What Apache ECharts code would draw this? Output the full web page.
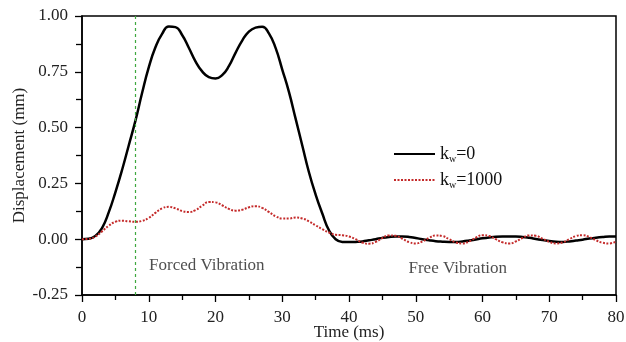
<!DOCTYPE html>
<html><head><meta charset="utf-8">
<script src="https://cdn.jsdelivr.net/npm/echarts@6/dist/echarts.min.js"></script>
<style>html,body{margin:0;padding:0;background:#fff}#c{width:626px;height:342px}</style>
</head><body><div id="c"></div>
<script>
var times = [];
for (var i = 0; i <= 80; i++) times.push(i);
var kw0 = [0,0.002,0.015,0.05,0.12,0.21,0.31,0.42,0.53,0.655,0.77,0.86,0.92,0.953,0.95,0.915,0.858,0.797,0.752,0.726,0.72,0.735,0.775,0.835,0.89,0.93,0.948,0.952,0.922,0.857,0.76,0.66,0.54,0.42,0.30,0.2,0.115,0.04,0.0,-0.012,-0.013,-0.012,-0.01,-0.005,0.0,0.006,0.01,0.012,0.012,0.01,0.005,0.0,-0.005,-0.009,-0.011,-0.012,-0.012,-0.01,-0.006,-0.001,0.004,0.008,0.011,0.012,0.012,0.012,0.01,0.006,0.001,-0.004,-0.008,-0.011,-0.012,-0.01,-0.006,-0.002,0.003,0.007,0.01,0.012,0.012];
var kw1000 = [0,0.002,0.012,0.035,0.06,0.078,0.083,0.08,0.078,0.082,0.095,0.118,0.138,0.145,0.138,0.126,0.122,0.13,0.15,0.167,0.165,0.152,0.136,0.128,0.132,0.143,0.148,0.14,0.122,0.103,0.093,0.093,0.097,0.093,0.08,0.062,0.045,0.03,0.02,0.018,0.012,0.0,-0.015,-0.02,-0.012,0.005,0.017,0.015,0.002,-0.013,-0.019,-0.01,0.006,0.017,0.014,0.0,-0.014,-0.019,-0.01,0.007,0.018,0.014,0.0,-0.014,-0.019,-0.01,0.006,0.017,0.015,0.002,-0.012,-0.019,-0.014,0.0,0.014,0.018,0.01,-0.005,-0.016,-0.019,-0.01];
var forcingEnd = 8;
var annotations = [["Forced Vibration", 18.7, -0.12], ["Free Vibration", 56.3, -0.13]];
var xTicks = {min: 0, max: 80, interval: 10};
var yTicks = {min: -0.25, max: 1, interval: 0.25};

function pairs(xs, ys){ return xs.map(function(x,i){return [x, ys[i]];}); }
var font = 'Liberation Serif';
var chart = echarts.init(document.getElementById('c'));
chart.setOption({
  animation: false,
  backgroundColor: '#fff',
  textStyle: {fontFamily: font},
  grid: {left: 82, right: 10, top: 16, bottom: 47, show: true, borderColor: '#000', borderWidth: 1.5,
    containLabel: false, outerBoundsMode: 'none'},
  xAxis: {type: 'value', min: xTicks.min, max: xTicks.max, interval: xTicks.interval,
    name: 'Time (ms)', nameLocation: 'middle', nameGap: 29, nameMoveOverlap: false,
    nameTextStyle: {fontFamily: font, fontSize: 17, color: '#222'},
    axisLine: {onZero: false, lineStyle: {color: '#000', width: 1.5}},
    axisTick: {length: 7, lineStyle: {color: '#000', width: 1.3}},
    minorTick: {show: true, splitNumber: 2, length: 5, lineStyle: {color: '#000', width: 1.3}},
    axisLabel: {fontFamily: font, fontSize: 17, color: '#222', margin: 14},
    splitLine: {show: false}},
  yAxis: {type: 'value', min: yTicks.min, max: yTicks.max, interval: yTicks.interval,
    name: 'Displacement (mm)', nameLocation: 'middle', nameGap: 54, nameMoveOverlap: false,
    nameTextStyle: {fontFamily: font, fontSize: 17, color: '#222'},
    axisLine: {lineStyle: {color: '#000', width: 1.5}},
    axisTick: {length: 7, lineStyle: {color: '#000', width: 1.3}},
    minorTick: {show: true, splitNumber: 2, length: 6, lineStyle: {color: '#000', width: 1.3}},
    axisLabel: {fontFamily: font, fontSize: 17, color: '#222', margin: 14,
      formatter: function(v){ return v.toFixed(2); }},
    splitLine: {show: false}},
  legend: {orient: 'vertical', left: 388, top: 140, itemWidth: 41, itemHeight: 16, itemGap: 7,
    data: ['kw0', 'kw1000'],
    itemStyle: {opacity: 0},
    formatter: function(n){ return n === 'kw0' ? '{a|k}{b|w}{a|=0}' : '{a|k}{b|w}{a|=1000}'; },
    textStyle: {rich: {
      a: {fontFamily: font, fontSize: 18, color: '#111'},
      b: {fontFamily: font, fontSize: 10, color: '#111', verticalAlign: 'bottom', padding: [10,0,0,0]}}}},
  series: [
    {name: 'kw0', type: 'line', data: pairs(times, kw0), smooth: 0.5, showSymbol: false, symbol: 'none',
      lineStyle: {color: '#000', width: 2.5}, itemStyle: {color: '#000'}, z: 3},
    {name: 'kw1000', type: 'line', data: pairs(times, kw1000), smooth: 0.5, showSymbol: false, symbol: 'none',
      lineStyle: {color: '#c42a2a', width: 2, type: [2, 1.5]}, itemStyle: {color: '#c42a2a'}, z: 4,
      markLine: {silent: true, symbol: 'none', label: {show: false},
        lineStyle: {color: '#3fa83f', width: 1.2, type: [3, 3], opacity: 1},
        data: [{xAxis: forcingEnd}]}},
    {name: 'notes', type: 'scatter', symbolSize: 0, data: annotations.map(function(a){return {value: [a[1], a[2]], name: a[0]};}),
      label: {show: true, position: 'inside', formatter: function(p){return p.name;},
        fontFamily: font, fontSize: 17, color: '#222'}, silent: true}
  ]
});
</script></body></html>
